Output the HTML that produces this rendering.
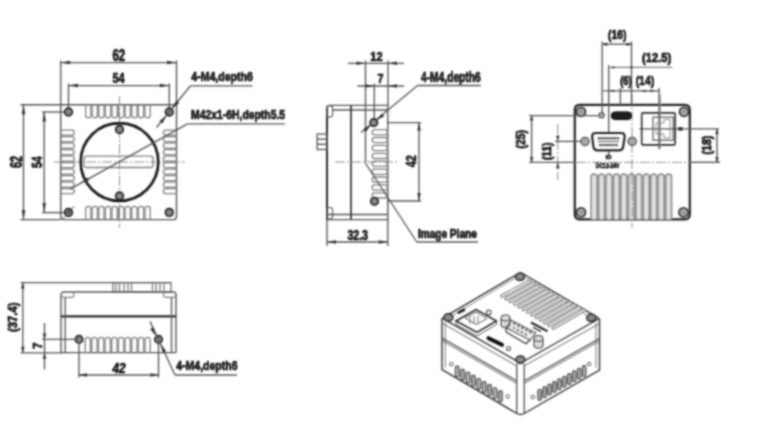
<!DOCTYPE html>
<html><head><meta charset="utf-8"><style>
html,body{margin:0;padding:0;background:#fff;width:760px;height:425px;overflow:hidden}
svg{display:block}
text{font-family:"Liberation Sans",sans-serif;stroke:#0a0a0a;stroke-width:0.65px}
</style></head><body>
<svg width="760" height="425" viewBox="0 0 760 425">
<defs><filter id="b" x="0" y="0" width="760" height="425" filterUnits="userSpaceOnUse"><feConvolveMatrix order="5" kernelMatrix="1 6 12 6 1 6 36 72 36 6 12 72 144 72 12 6 36 72 36 6 1 6 12 6 1" divisor="676" edgeMode="duplicate"/></filter></defs>
<rect width="760" height="425" fill="#fff"/>
<g filter="url(#b)">
<line x1="60.7" y1="60.5" x2="60.7" y2="104.7" stroke="#555" stroke-width="1.35" />
<line x1="176.5" y1="60.5" x2="176.5" y2="104.7" stroke="#555" stroke-width="1.35" />
<line x1="60.7" y1="62.6" x2="176.5" y2="62.6" stroke="#555" stroke-width="1.35" />
<path d="M60.7,62.6 L70.2,60.85 L70.2,64.35 Z" fill="#303030"/>
<path d="M176.5,62.6 L167,64.35 L167,60.85 Z" fill="#303030"/>
<text x="118.8" y="60.6" font-size="16.5" text-anchor="middle" fill="#0a0a0a" font-weight="bold" textLength="12.8" lengthAdjust="spacingAndGlyphs">62</text>
<line x1="68.5" y1="83.5" x2="68.5" y2="112" stroke="#555" stroke-width="1.35" />
<line x1="169.3" y1="83.5" x2="169.3" y2="112" stroke="#555" stroke-width="1.35" />
<line x1="68.5" y1="85.6" x2="169.3" y2="85.6" stroke="#555" stroke-width="1.35" />
<path d="M68.5,85.6 L78,83.85 L78,87.35 Z" fill="#303030"/>
<path d="M169.3,85.6 L159.8,87.35 L159.8,83.85 Z" fill="#303030"/>
<text x="118.5" y="82.7" font-size="14" text-anchor="middle" fill="#0a0a0a" font-weight="bold" textLength="12" lengthAdjust="spacingAndGlyphs">54</text>
<line x1="20.5" y1="104.7" x2="60.7" y2="104.7" stroke="#555" stroke-width="1.35" />
<line x1="20.5" y1="219.6" x2="60.7" y2="219.6" stroke="#555" stroke-width="1.35" />
<line x1="23.5" y1="104.7" x2="23.5" y2="219.6" stroke="#555" stroke-width="1.35" />
<path d="M23.5,104.7 L25.25,114.2 L21.75,114.2 Z" fill="#303030"/>
<path d="M23.5,219.6 L21.75,210.1 L25.25,210.1 Z" fill="#303030"/>
<text x="21.5" y="162" font-size="16.5" text-anchor="middle" fill="#0a0a0a" font-weight="bold" textLength="12.2" lengthAdjust="spacingAndGlyphs" transform="rotate(-90 21.5 162)">62</text>
<line x1="42" y1="112" x2="68.5" y2="112" stroke="#555" stroke-width="1.35" />
<line x1="42" y1="212.6" x2="68.5" y2="212.6" stroke="#555" stroke-width="1.35" />
<line x1="44.2" y1="112" x2="44.2" y2="212.6" stroke="#555" stroke-width="1.35" />
<path d="M44.2,112 L45.95,121.5 L42.45,121.5 Z" fill="#303030"/>
<path d="M44.2,212.6 L42.45,203.1 L45.95,203.1 Z" fill="#303030"/>
<text x="42" y="162.2" font-size="15.5" text-anchor="middle" fill="#0a0a0a" font-weight="bold" textLength="11.5" lengthAdjust="spacingAndGlyphs" transform="rotate(-90 42 162.2)">54</text>
<path d="M60.7,104.7 L176.5,104.7 L176.5,216.6 Q176.5,219.6 173.5,219.6 L63.7,219.6 Q60.7,219.6 60.7,216.6 Z" fill="none" stroke="#555" stroke-width="1.4" />
<path d="M85.6,104.7 L85.6,115.2 Q85.6,117.8 88.2,117.8 Q90.8,117.8 90.8,115.2 L90.8,104.7" fill="none" stroke="#808080" stroke-width="1.3" />
<path d="M85.6,219.6 L85.6,209 Q85.6,206.4 88.2,206.4 Q90.8,206.4 90.8,209 L90.8,219.6" fill="none" stroke="#808080" stroke-width="1.3" />
<path d="M92.2,104.7 L92.2,115.2 Q92.2,117.8 94.8,117.8 Q97.4,117.8 97.4,115.2 L97.4,104.7" fill="none" stroke="#808080" stroke-width="1.3" />
<path d="M92.2,219.6 L92.2,209 Q92.2,206.4 94.8,206.4 Q97.4,206.4 97.4,209 L97.4,219.6" fill="none" stroke="#808080" stroke-width="1.3" />
<path d="M98.8,104.7 L98.8,115.2 Q98.8,117.8 101.4,117.8 Q104,117.8 104,115.2 L104,104.7" fill="none" stroke="#808080" stroke-width="1.3" />
<path d="M98.8,219.6 L98.8,209 Q98.8,206.4 101.4,206.4 Q104,206.4 104,209 L104,219.6" fill="none" stroke="#808080" stroke-width="1.3" />
<path d="M105.4,104.7 L105.4,115.2 Q105.4,117.8 108,117.8 Q110.6,117.8 110.6,115.2 L110.6,104.7" fill="none" stroke="#808080" stroke-width="1.3" />
<path d="M105.4,219.6 L105.4,209 Q105.4,206.4 108,206.4 Q110.6,206.4 110.6,209 L110.6,219.6" fill="none" stroke="#808080" stroke-width="1.3" />
<path d="M112,104.7 L112,115.2 Q112,117.8 114.6,117.8 Q117.2,117.8 117.2,115.2 L117.2,104.7" fill="none" stroke="#808080" stroke-width="1.3" />
<path d="M112,219.6 L112,209 Q112,206.4 114.6,206.4 Q117.2,206.4 117.2,209 L117.2,219.6" fill="none" stroke="#808080" stroke-width="1.3" />
<path d="M118.6,104.7 L118.6,115.2 Q118.6,117.8 121.2,117.8 Q123.8,117.8 123.8,115.2 L123.8,104.7" fill="none" stroke="#808080" stroke-width="1.3" />
<path d="M118.6,219.6 L118.6,209 Q118.6,206.4 121.2,206.4 Q123.8,206.4 123.8,209 L123.8,219.6" fill="none" stroke="#808080" stroke-width="1.3" />
<path d="M125.2,104.7 L125.2,115.2 Q125.2,117.8 127.8,117.8 Q130.4,117.8 130.4,115.2 L130.4,104.7" fill="none" stroke="#808080" stroke-width="1.3" />
<path d="M125.2,219.6 L125.2,209 Q125.2,206.4 127.8,206.4 Q130.4,206.4 130.4,209 L130.4,219.6" fill="none" stroke="#808080" stroke-width="1.3" />
<path d="M131.8,104.7 L131.8,115.2 Q131.8,117.8 134.4,117.8 Q137,117.8 137,115.2 L137,104.7" fill="none" stroke="#808080" stroke-width="1.3" />
<path d="M131.8,219.6 L131.8,209 Q131.8,206.4 134.4,206.4 Q137,206.4 137,209 L137,219.6" fill="none" stroke="#808080" stroke-width="1.3" />
<path d="M138.4,104.7 L138.4,115.2 Q138.4,117.8 141,117.8 Q143.6,117.8 143.6,115.2 L143.6,104.7" fill="none" stroke="#808080" stroke-width="1.3" />
<path d="M138.4,219.6 L138.4,209 Q138.4,206.4 141,206.4 Q143.6,206.4 143.6,209 L143.6,219.6" fill="none" stroke="#808080" stroke-width="1.3" />
<path d="M145,104.7 L145,115.2 Q145,117.8 147.6,117.8 Q150.2,117.8 150.2,115.2 L150.2,104.7" fill="none" stroke="#808080" stroke-width="1.3" />
<path d="M145,219.6 L145,209 Q145,206.4 147.6,206.4 Q150.2,206.4 150.2,209 L150.2,219.6" fill="none" stroke="#808080" stroke-width="1.3" />
<path d="M60.7,130.2 L72,130.2 Q74.3,130.2 74.3,132.7 Q74.3,135.2 72,135.2 L60.7,135.2" fill="none" stroke="#808080" stroke-width="1.3" />
<path d="M176.5,130.2 L165.7,130.2 Q163.4,130.2 163.4,132.7 Q163.4,135.2 165.7,135.2 L176.5,135.2" fill="none" stroke="#808080" stroke-width="1.3" />
<path d="M60.7,136.7 L72,136.7 Q74.3,136.7 74.3,139.2 Q74.3,141.7 72,141.7 L60.7,141.7" fill="none" stroke="#808080" stroke-width="1.3" />
<path d="M176.5,136.7 L165.7,136.7 Q163.4,136.7 163.4,139.2 Q163.4,141.7 165.7,141.7 L176.5,141.7" fill="none" stroke="#808080" stroke-width="1.3" />
<path d="M60.7,143.2 L72,143.2 Q74.3,143.2 74.3,145.7 Q74.3,148.2 72,148.2 L60.7,148.2" fill="none" stroke="#808080" stroke-width="1.3" />
<path d="M176.5,143.2 L165.7,143.2 Q163.4,143.2 163.4,145.7 Q163.4,148.2 165.7,148.2 L176.5,148.2" fill="none" stroke="#808080" stroke-width="1.3" />
<path d="M60.7,149.7 L72,149.7 Q74.3,149.7 74.3,152.2 Q74.3,154.7 72,154.7 L60.7,154.7" fill="none" stroke="#808080" stroke-width="1.3" />
<path d="M176.5,149.7 L165.7,149.7 Q163.4,149.7 163.4,152.2 Q163.4,154.7 165.7,154.7 L176.5,154.7" fill="none" stroke="#808080" stroke-width="1.3" />
<path d="M60.7,156.2 L72,156.2 Q74.3,156.2 74.3,158.7 Q74.3,161.2 72,161.2 L60.7,161.2" fill="none" stroke="#808080" stroke-width="1.3" />
<path d="M176.5,156.2 L165.7,156.2 Q163.4,156.2 163.4,158.7 Q163.4,161.2 165.7,161.2 L176.5,161.2" fill="none" stroke="#808080" stroke-width="1.3" />
<path d="M60.7,162.7 L72,162.7 Q74.3,162.7 74.3,165.2 Q74.3,167.7 72,167.7 L60.7,167.7" fill="none" stroke="#808080" stroke-width="1.3" />
<path d="M176.5,162.7 L165.7,162.7 Q163.4,162.7 163.4,165.2 Q163.4,167.7 165.7,167.7 L176.5,167.7" fill="none" stroke="#808080" stroke-width="1.3" />
<path d="M60.7,169.2 L72,169.2 Q74.3,169.2 74.3,171.7 Q74.3,174.2 72,174.2 L60.7,174.2" fill="none" stroke="#808080" stroke-width="1.3" />
<path d="M176.5,169.2 L165.7,169.2 Q163.4,169.2 163.4,171.7 Q163.4,174.2 165.7,174.2 L176.5,174.2" fill="none" stroke="#808080" stroke-width="1.3" />
<path d="M60.7,175.7 L72,175.7 Q74.3,175.7 74.3,178.2 Q74.3,180.7 72,180.7 L60.7,180.7" fill="none" stroke="#808080" stroke-width="1.3" />
<path d="M176.5,175.7 L165.7,175.7 Q163.4,175.7 163.4,178.2 Q163.4,180.7 165.7,180.7 L176.5,180.7" fill="none" stroke="#808080" stroke-width="1.3" />
<path d="M60.7,182.2 L72,182.2 Q74.3,182.2 74.3,184.7 Q74.3,187.2 72,187.2 L60.7,187.2" fill="none" stroke="#808080" stroke-width="1.3" />
<path d="M176.5,182.2 L165.7,182.2 Q163.4,182.2 163.4,184.7 Q163.4,187.2 165.7,187.2 L176.5,187.2" fill="none" stroke="#808080" stroke-width="1.3" />
<path d="M60.7,188.7 L72,188.7 Q74.3,188.7 74.3,191.2 Q74.3,193.7 72,193.7 L60.7,193.7" fill="none" stroke="#808080" stroke-width="1.3" />
<path d="M176.5,188.7 L165.7,188.7 Q163.4,188.7 163.4,191.2 Q163.4,193.7 165.7,193.7 L176.5,193.7" fill="none" stroke="#808080" stroke-width="1.3" />
<line x1="54" y1="162" x2="185" y2="162" stroke="#808080" stroke-width="0.9" stroke-dasharray="10,2,2,2"/>
<line x1="119.5" y1="96" x2="119.5" y2="228" stroke="#808080" stroke-width="0.9" stroke-dasharray="10,2,2,2"/>
<circle cx="119.5" cy="162" r="38.8" fill="none" stroke="#151515" stroke-width="2.7"/>
<rect x="84" y="156.2" width="69" height="11.3" rx="2.5" fill="none" stroke="#808080" stroke-width="1.3" />
<circle cx="68.5" cy="112" r="3.7" fill="#8a8a8a" stroke="#1a1a1a" stroke-width="1.9"/>
<circle cx="169.3" cy="112" r="3.7" fill="#8a8a8a" stroke="#1a1a1a" stroke-width="1.9"/>
<circle cx="68.5" cy="212.4" r="3.7" fill="#8a8a8a" stroke="#1a1a1a" stroke-width="1.9"/>
<circle cx="169.3" cy="212.4" r="3.7" fill="#8a8a8a" stroke="#1a1a1a" stroke-width="1.9"/>
<circle cx="119.5" cy="129.5" r="3.7" fill="#8a8a8a" stroke="#1a1a1a" stroke-width="1.9"/>
<circle cx="119.5" cy="196" r="3.7" fill="#8a8a8a" stroke="#1a1a1a" stroke-width="1.9"/>
<line x1="190.5" y1="85.8" x2="156.5" y2="127.5" stroke="#555" stroke-width="1.35" />
<path d="M172.3,108.3 L176.21,100.52 L179.15,102.92 Z" fill="#303030"/>
<path d="M166.3,115.7 L162.39,123.48 L159.45,121.08 Z" fill="#303030"/>
<line x1="190.5" y1="85.8" x2="252.3" y2="85.8" stroke="#555" stroke-width="1.35" />
<text x="191.3" y="81" font-size="13.6" text-anchor="start" fill="#0a0a0a" font-weight="bold" textLength="61.6" lengthAdjust="spacingAndGlyphs">4-M4,depth6</text>
<line x1="187.5" y1="123.8" x2="70" y2="189.2" stroke="#555" stroke-width="1.35" />
<path d="M80.5,183.3 L87.51,177.4 L89.18,180.36 Z" fill="#303030"/>
<line x1="187.5" y1="123.8" x2="285" y2="123.8" stroke="#555" stroke-width="1.35" />
<text x="191.1" y="118.6" font-size="13.3" text-anchor="start" fill="#0a0a0a" font-weight="bold" textLength="94" lengthAdjust="spacingAndGlyphs">M42x1-6H,depth5.5</text>
<line x1="62" y1="219.6" x2="74.4" y2="206" stroke="#555" stroke-width="1" />
<path d="M66.5,214.6 L68.22,210.76 L70.15,212.51 Z" fill="#303030"/>
<path d="M71,209.8 L69.28,213.64 L67.35,211.89 Z" fill="#303030"/>
<line x1="347.8" y1="63.3" x2="404" y2="63.3" stroke="#555" stroke-width="1.35" />
<path d="M365.5,63.3 L356.5,65.05 L356.5,61.55 Z" fill="#303030"/>
<path d="M388,63.3 L397,61.55 L397,65.05 Z" fill="#303030"/>
<line x1="365.5" y1="60.5" x2="365.5" y2="162" stroke="#555" stroke-width="1.35" />
<line x1="388" y1="60.5" x2="388" y2="105.4" stroke="#555" stroke-width="1.35" />
<text x="376.5" y="60.5" font-size="13.5" text-anchor="middle" fill="#0a0a0a" font-weight="bold" textLength="12.3" lengthAdjust="spacingAndGlyphs">12</text>
<line x1="357.5" y1="86" x2="404" y2="86" stroke="#555" stroke-width="1.35" />
<path d="M374.3,86 L365.3,87.75 L365.3,84.25 Z" fill="#303030"/>
<path d="M388,86 L397,84.25 L397,87.75 Z" fill="#303030"/>
<line x1="374.3" y1="83.5" x2="374.3" y2="119" stroke="#555" stroke-width="1.35" />
<text x="380.4" y="83.4" font-size="13.5" text-anchor="middle" fill="#0a0a0a" font-weight="bold" textLength="6" lengthAdjust="spacingAndGlyphs">7</text>
<text x="421" y="81.5" font-size="14.2" text-anchor="start" fill="#0a0a0a" font-weight="bold" textLength="59.7" lengthAdjust="spacingAndGlyphs">4-M4,depth6</text>
<line x1="417.5" y1="85.5" x2="481" y2="85.5" stroke="#555" stroke-width="1.35" />
<line x1="417.5" y1="85.5" x2="361" y2="132.5" stroke="#555" stroke-width="1.35" />
<path d="M376.5,120.3 L381.82,113.41 L384.25,116.33 Z" fill="#303030"/>
<path d="M371,125 L365.68,131.89 L363.25,128.97 Z" fill="#303030"/>
<path d="M327,219.6 L327,108.4 Q327,105.4 330,105.4 L387.8,105.4 L387.8,219.6 Z" fill="none" stroke="#555" stroke-width="1.4" />
<line x1="327" y1="108.4" x2="327" y2="219.6" stroke="#1e1e1e" stroke-width="1.8" />
<line x1="332" y1="110" x2="387.8" y2="110" stroke="#555" stroke-width="1.35" />
<line x1="327" y1="214.5" x2="387.8" y2="214.5" stroke="#555" stroke-width="1.35" />
<line x1="351" y1="105.4" x2="351" y2="219.6" stroke="#303030" stroke-width="1.7" />
<rect x="326.6" y="105.6" width="6" height="11.5" rx="2.5" fill="none" stroke="#555" stroke-width="1.1" />
<rect x="326.6" y="207.5" width="6" height="11.5" rx="2.5" fill="none" stroke="#555" stroke-width="1.1" />
<rect x="317.2" y="134" width="9.8" height="15.5" rx="0" fill="none" stroke="#555" stroke-width="1.3" />
<line x1="317.2" y1="139.2" x2="327" y2="139.2" stroke="#555" stroke-width="1.35" />
<line x1="317.2" y1="144.3" x2="327" y2="144.3" stroke="#555" stroke-width="1.35" />
<rect x="372.2" y="129.6" width="15.2" height="5.2" rx="2.6" fill="none" stroke="#808080" stroke-width="1.3" />
<rect x="372.2" y="137.5" width="15.2" height="5.2" rx="2.6" fill="none" stroke="#808080" stroke-width="1.3" />
<rect x="372.2" y="145.4" width="15.2" height="5.2" rx="2.6" fill="none" stroke="#808080" stroke-width="1.3" />
<rect x="372.2" y="153.3" width="15.2" height="5.2" rx="2.6" fill="none" stroke="#808080" stroke-width="1.3" />
<rect x="372.2" y="161.2" width="15.2" height="5.2" rx="2.6" fill="none" stroke="#808080" stroke-width="1.3" />
<rect x="372.2" y="169.1" width="15.2" height="5.2" rx="2.6" fill="none" stroke="#808080" stroke-width="1.3" />
<rect x="372.2" y="177" width="15.2" height="5.2" rx="2.6" fill="none" stroke="#808080" stroke-width="1.3" />
<rect x="372.2" y="184.9" width="15.2" height="5.2" rx="2.6" fill="none" stroke="#808080" stroke-width="1.3" />
<rect x="372.2" y="192.8" width="15.2" height="5.2" rx="2.6" fill="none" stroke="#808080" stroke-width="1.3" />
<circle cx="373.8" cy="122.6" r="3.6" fill="#8a8a8a" stroke="#1a1a1a" stroke-width="1.9"/>
<circle cx="374.5" cy="201.2" r="3.6" fill="#8a8a8a" stroke="#1a1a1a" stroke-width="1.9"/>
<line x1="387.8" y1="122.6" x2="421" y2="122.6" stroke="#555" stroke-width="1.35" />
<line x1="387.8" y1="201" x2="421" y2="201" stroke="#555" stroke-width="1.35" />
<line x1="419" y1="122.6" x2="419" y2="201" stroke="#555" stroke-width="1.35" />
<path d="M419,122.6 L420.75,130.6 L417.25,130.6 Z" fill="#303030"/>
<path d="M419,201 L417.25,193 L420.75,193 Z" fill="#303030"/>
<text x="416" y="161.3" font-size="14" text-anchor="middle" fill="#0a0a0a" font-weight="bold" textLength="12" lengthAdjust="spacingAndGlyphs" transform="rotate(-90 416 161.3)">42</text>
<line x1="335" y1="162" x2="398" y2="162" stroke="#808080" stroke-width="0.9" stroke-dasharray="10,2,2,2"/>
<line x1="327" y1="219.6" x2="327" y2="246" stroke="#555" stroke-width="1.35" />
<line x1="387.8" y1="219.6" x2="387.8" y2="246" stroke="#555" stroke-width="1.35" />
<line x1="327" y1="242" x2="387.8" y2="242" stroke="#555" stroke-width="1.35" />
<path d="M327,242 L336,240.25 L336,243.75 Z" fill="#303030"/>
<path d="M387.8,242 L378.8,243.75 L378.8,240.25 Z" fill="#303030"/>
<text x="357.7" y="239.8" font-size="14" text-anchor="middle" fill="#0a0a0a" font-weight="bold" textLength="20.6" lengthAdjust="spacingAndGlyphs">32.3</text>
<line x1="416.8" y1="242" x2="365" y2="162.5" stroke="#555" stroke-width="1.35" />
<line x1="416.8" y1="242" x2="478" y2="242" stroke="#555" stroke-width="1.35" />
<text x="417.9" y="237.7" font-size="13" text-anchor="start" fill="#0a0a0a" font-weight="bold" textLength="58.9" lengthAdjust="spacingAndGlyphs">Image Plane</text>
<path d="M579.8,104.9 L684.8,104.9 Q689.8,104.9 689.8,109.9 L689.8,214.3 Q689.8,219.3 684.8,219.3 L579.8,219.3 Q574.8,219.3 574.8,214.3 L574.8,109.9 Q574.8,104.9 579.8,104.9 Z" fill="none" stroke="#222" stroke-width="2.2" />
<circle cx="581" cy="111.8" r="4.4" fill="#b5b5b5" stroke="#333" stroke-width="2"/>
<path d="M579,109.8 L583,113.8 M579,113.8 L583,109.8" fill="none" stroke="#666" stroke-width="0.8" />
<circle cx="684" cy="111.8" r="4.4" fill="#b5b5b5" stroke="#333" stroke-width="2"/>
<path d="M682,109.8 L686,113.8 M682,113.8 L686,109.8" fill="none" stroke="#666" stroke-width="0.8" />
<circle cx="581" cy="212.4" r="4.4" fill="#b5b5b5" stroke="#333" stroke-width="2"/>
<path d="M579,210.4 L583,214.4 M579,214.4 L583,210.4" fill="none" stroke="#666" stroke-width="0.8" />
<circle cx="683.5" cy="212.4" r="4.4" fill="#b5b5b5" stroke="#333" stroke-width="2"/>
<path d="M681.5,210.4 L685.5,214.4 M681.5,214.4 L685.5,210.4" fill="none" stroke="#666" stroke-width="0.8" />
<path d="M591.2,219.3 L591.2,177 Q591.2,174.2 594.1,174.2 Q597,174.2 597,177 L597,219.3" fill="#e2e2e2" stroke="#8a8a8a" stroke-width="1.7" />
<path d="M598.65,219.3 L598.65,177 Q598.65,174.2 601.55,174.2 Q604.45,174.2 604.45,177 L604.45,219.3" fill="#e2e2e2" stroke="#8a8a8a" stroke-width="1.7" />
<path d="M606.1,219.3 L606.1,177 Q606.1,174.2 609,174.2 Q611.9,174.2 611.9,177 L611.9,219.3" fill="#e2e2e2" stroke="#8a8a8a" stroke-width="1.7" />
<path d="M613.55,219.3 L613.55,177 Q613.55,174.2 616.45,174.2 Q619.35,174.2 619.35,177 L619.35,219.3" fill="#e2e2e2" stroke="#8a8a8a" stroke-width="1.7" />
<path d="M621,219.3 L621,177 Q621,174.2 623.9,174.2 Q626.8,174.2 626.8,177 L626.8,219.3" fill="#e2e2e2" stroke="#8a8a8a" stroke-width="1.7" />
<path d="M628.45,219.3 L628.45,177 Q628.45,174.2 631.35,174.2 Q634.25,174.2 634.25,177 L634.25,219.3" fill="#e2e2e2" stroke="#8a8a8a" stroke-width="1.7" />
<path d="M635.9,219.3 L635.9,177 Q635.9,174.2 638.8,174.2 Q641.7,174.2 641.7,177 L641.7,219.3" fill="#e2e2e2" stroke="#8a8a8a" stroke-width="1.7" />
<path d="M643.35,219.3 L643.35,177 Q643.35,174.2 646.25,174.2 Q649.15,174.2 649.15,177 L649.15,219.3" fill="#e2e2e2" stroke="#8a8a8a" stroke-width="1.7" />
<path d="M650.8,219.3 L650.8,177 Q650.8,174.2 653.7,174.2 Q656.6,174.2 656.6,177 L656.6,219.3" fill="#e2e2e2" stroke="#8a8a8a" stroke-width="1.7" />
<path d="M658.25,219.3 L658.25,177 Q658.25,174.2 661.15,174.2 Q664.05,174.2 664.05,177 L664.05,219.3" fill="#e2e2e2" stroke="#8a8a8a" stroke-width="1.7" />
<path d="M665.7,219.3 L665.7,177 Q665.7,174.2 668.6,174.2 Q671.5,174.2 671.5,177 L671.5,219.3" fill="#e2e2e2" stroke="#8a8a8a" stroke-width="1.7" />
<line x1="632" y1="95" x2="632" y2="228" stroke="#808080" stroke-width="0.9" stroke-dasharray="10,2,2,2"/>
<line x1="529" y1="162.3" x2="576" y2="162.3" stroke="#555" stroke-width="1.35" />
<line x1="576" y1="162.3" x2="690" y2="162.3" stroke="#808080" stroke-width="0.9" stroke-dasharray="10,2,2,2"/>
<line x1="690" y1="162.3" x2="720" y2="162.3" stroke="#555" stroke-width="1.35" />
<line x1="602.2" y1="41.5" x2="602.2" y2="116" stroke="#555" stroke-width="1.35" />
<line x1="631.5" y1="41.5" x2="631.5" y2="104.9" stroke="#555" stroke-width="1.35" />
<line x1="602.2" y1="44.2" x2="631.5" y2="44.2" stroke="#555" stroke-width="1.35" />
<path d="M602.2,44.2 L607.2,42.45 L607.2,45.95 Z" fill="#303030"/>
<path d="M631.5,44.2 L626.5,45.95 L626.5,42.45 Z" fill="#303030"/>
<text x="617.2" y="39.2" font-size="13" text-anchor="middle" fill="#0a0a0a" font-weight="bold" textLength="18.3" lengthAdjust="spacingAndGlyphs">(16)</text>
<line x1="608.7" y1="65" x2="608.7" y2="133" stroke="#555" stroke-width="1.35" />
<line x1="608.7" y1="150" x2="608.7" y2="155" stroke="#555" stroke-width="1.35" />
<line x1="608.2" y1="67.4" x2="672.2" y2="67.4" stroke="#808080" stroke-width="1.35" />
<path d="M616.7,67.4 L612.2,68.6 L612.2,66.2 Z" fill="#303030"/>
<path d="M628,67.4 L632.5,66.2 L632.5,68.6 Z" fill="#303030"/>
<text x="656.7" y="61.8" font-size="13" text-anchor="middle" fill="#0a0a0a" font-weight="bold" textLength="29.2" lengthAdjust="spacingAndGlyphs">(12.5)</text>
<line x1="620.4" y1="88" x2="620.4" y2="104.9" stroke="#555" stroke-width="1.35" />
<line x1="659" y1="88" x2="659" y2="149" stroke="#555" stroke-width="1.35" />
<line x1="603.5" y1="90.9" x2="659" y2="90.9" stroke="#555" stroke-width="1.35" />
<path d="M615.7,90.9 L611.2,92.1 L611.2,89.7 Z" fill="#303030"/>
<path d="M620.4,90.9 L620.5,90.8 L620.5,91 Z" fill="#303030"/>
<path d="M641,90.9 L646,89.7 L646,92.1 Z" fill="#303030"/>
<path d="M655.3,90.9 L650.3,92.1 L650.3,89.7 Z" fill="#303030"/>
<text x="625.9" y="85.4" font-size="13" text-anchor="middle" fill="#0a0a0a" font-weight="bold" textLength="11.5" lengthAdjust="spacingAndGlyphs">(6)</text>
<text x="644.9" y="85.4" font-size="13" text-anchor="middle" fill="#0a0a0a" font-weight="bold" textLength="18.5" lengthAdjust="spacingAndGlyphs">(14)</text>
<line x1="529" y1="115.6" x2="602" y2="115.6" stroke="#555" stroke-width="1.35" />
<line x1="531.6" y1="115.6" x2="531.6" y2="162.3" stroke="#555" stroke-width="1.35" />
<path d="M531.6,115.6 L533.35,120.6 L529.85,120.6 Z" fill="#303030"/>
<path d="M531.6,162.3 L529.85,157.3 L533.35,157.3 Z" fill="#303030"/>
<text x="525.5" y="139.3" font-size="13" text-anchor="middle" fill="#0a0a0a" font-weight="bold" textLength="18.5" lengthAdjust="spacingAndGlyphs" transform="rotate(-90 525.5 139.3)">(25)</text>
<line x1="557.8" y1="124" x2="557.8" y2="180" stroke="#808080" stroke-width="0.9" stroke-dasharray="10,2,2,2"/>
<line x1="555" y1="141.4" x2="585" y2="141.4" stroke="#555" stroke-width="1.35" />
<path d="M557.8,141.4 L556.05,135.4 L559.55,135.4 Z" fill="#303030"/>
<path d="M557.8,162.3 L559.55,168.3 L556.05,168.3 Z" fill="#303030"/>
<text x="551.5" y="151.3" font-size="13" text-anchor="middle" fill="#0a0a0a" font-weight="bold" textLength="17.5" lengthAdjust="spacingAndGlyphs" transform="rotate(-90 551.5 151.3)">(11)</text>
<line x1="639.4" y1="128.9" x2="719" y2="128.9" stroke="#555" stroke-width="1.35" />
<line x1="717" y1="128.9" x2="717" y2="162.3" stroke="#555" stroke-width="1.35" />
<path d="M717,128.9 L718.75,133.9 L715.25,133.9 Z" fill="#303030"/>
<path d="M717,162.3 L715.25,157.3 L718.75,157.3 Z" fill="#303030"/>
<text x="710.8" y="145" font-size="13" text-anchor="middle" fill="#0a0a0a" font-weight="bold" textLength="18.8" lengthAdjust="spacingAndGlyphs" transform="rotate(-90 710.8 145)">(18)</text>
<circle cx="601.6" cy="115.3" r="2.6" fill="#aaa" stroke="#555" stroke-width="1.2"/>
<rect x="611.2" y="111.9" width="20.6" height="7.6" rx="3.8" fill="#1a1a1a" stroke="#111" stroke-width="1" />
<path d="M596,133 L621,133 Q625.2,133 624.6,137 L623.2,146.5 Q622.7,150.3 619,150.3 L597.6,150.3 Q594,150.3 593.4,146.5 L592.2,137 Q591.7,133 596,133 Z" fill="none" stroke="#222" stroke-width="2.2" />
<circle cx="598.8" cy="138.3" r="0.95" fill="#555" stroke="#333" stroke-width="0.7"/>
<circle cx="601.55" cy="138.3" r="0.95" fill="#555" stroke="#333" stroke-width="0.7"/>
<circle cx="604.3" cy="138.3" r="0.95" fill="#555" stroke="#333" stroke-width="0.7"/>
<circle cx="607.05" cy="138.3" r="0.95" fill="#555" stroke="#333" stroke-width="0.7"/>
<circle cx="609.8" cy="138.3" r="0.95" fill="#555" stroke="#333" stroke-width="0.7"/>
<circle cx="612.55" cy="138.3" r="0.95" fill="#555" stroke="#333" stroke-width="0.7"/>
<circle cx="615.3" cy="138.3" r="0.95" fill="#555" stroke="#333" stroke-width="0.7"/>
<circle cx="618.05" cy="138.3" r="0.95" fill="#555" stroke="#333" stroke-width="0.7"/>
<line x1="598" y1="141.4" x2="619" y2="141.4" stroke="#555" stroke-width="1" />
<circle cx="600.2" cy="145" r="0.95" fill="#555" stroke="#333" stroke-width="0.7"/>
<circle cx="602.95" cy="145" r="0.95" fill="#555" stroke="#333" stroke-width="0.7"/>
<circle cx="605.7" cy="145" r="0.95" fill="#555" stroke="#333" stroke-width="0.7"/>
<circle cx="608.45" cy="145" r="0.95" fill="#555" stroke="#333" stroke-width="0.7"/>
<circle cx="611.2" cy="145" r="0.95" fill="#555" stroke="#333" stroke-width="0.7"/>
<circle cx="613.95" cy="145" r="0.95" fill="#555" stroke="#333" stroke-width="0.7"/>
<circle cx="616.7" cy="145" r="0.95" fill="#555" stroke="#333" stroke-width="0.7"/>
<circle cx="585" cy="141.4" r="4" fill="#aaa" stroke="#555" stroke-width="1.5"/>
<circle cx="632.2" cy="141.4" r="4" fill="#aaa" stroke="#555" stroke-width="1.5"/>
<text x="608.6" y="159.4" font-size="5.5" text-anchor="middle" fill="#0a0a0a" font-weight="bold" textLength="5.5" lengthAdjust="spacingAndGlyphs">IO</text>
<text x="607.6" y="167.8" font-size="8" text-anchor="middle" fill="#0a0a0a" font-weight="bold" textLength="23.5" lengthAdjust="spacingAndGlyphs">DC12-24V</text>
<rect x="641.7" y="112.9" width="33.5" height="32" rx="1.5" fill="none" stroke="#2a2a2a" stroke-width="1.6" />
<rect x="653" y="117.2" width="20.3" height="23" rx="0" fill="none" stroke="#555" stroke-width="1.2" />
<path d="M656,123 L664,123 L664,119.5 L670,119.5 L670,138 L664,138 L664,134 L656,134 Z" fill="none" stroke="#808080" stroke-width="0.9" />
<line x1="660.1" y1="95" x2="660.1" y2="148.7" stroke="#808080" stroke-width="1.35" />
<rect x="678.5" y="127.3" width="4" height="3" rx="0" fill="#333" stroke="#333" stroke-width="0.5" />
<line x1="20.7" y1="282.6" x2="171" y2="282.6" stroke="#555" stroke-width="1.35" />
<line x1="20.7" y1="352.8" x2="62" y2="352.8" stroke="#555" stroke-width="1.35" />
<line x1="22.8" y1="282.6" x2="22.8" y2="352.8" stroke="#555" stroke-width="1.35" />
<path d="M22.8,282.6 L24.55,288.6 L21.05,288.6 Z" fill="#303030"/>
<path d="M22.8,352.8 L21.05,346.8 L24.55,346.8 Z" fill="#303030"/>
<text x="17.2" y="317.2" font-size="13" text-anchor="middle" fill="#0a0a0a" font-weight="bold" textLength="29.5" lengthAdjust="spacingAndGlyphs" transform="rotate(-90 17.2 317.2)">(37.4)</text>
<path d="M61,352.6 L61,295 Q61,292 64,292 L173,292 Q176,292 176,295 L176,352.6" fill="none" stroke="#555" stroke-width="1.4" />
<line x1="61" y1="352.6" x2="176" y2="352.6" stroke="#555" stroke-width="1.3" />
<line x1="61" y1="316.4" x2="176" y2="316.4" stroke="#2a2a2a" stroke-width="2.2" />
<rect x="61.5" y="292" width="12.5" height="5.4" rx="2.5" fill="none" stroke="#808080" stroke-width="1.1" />
<rect x="163.5" y="292" width="12.5" height="5.4" rx="2.5" fill="none" stroke="#808080" stroke-width="1.1" />
<line x1="65.2" y1="297.4" x2="65.2" y2="352.6" stroke="#555" stroke-width="1.35" />
<line x1="171.5" y1="297.4" x2="171.5" y2="352.6" stroke="#555" stroke-width="1.35" />
<rect x="113" y="282.6" width="58" height="9.4" rx="0" fill="none" stroke="#555" stroke-width="1.1" />
<line x1="116" y1="282.6" x2="116" y2="292" stroke="#808080" stroke-width="1.35" />
<line x1="119.5" y1="282.6" x2="119.5" y2="292" stroke="#808080" stroke-width="1.35" />
<line x1="124" y1="282.6" x2="124" y2="292" stroke="#808080" stroke-width="1.35" />
<line x1="128" y1="282.6" x2="128" y2="292" stroke="#808080" stroke-width="1.35" />
<line x1="131.5" y1="282.6" x2="131.5" y2="292" stroke="#808080" stroke-width="1.35" />
<line x1="152.5" y1="282.6" x2="152.5" y2="292" stroke="#808080" stroke-width="1.35" />
<line x1="156" y1="282.6" x2="156" y2="292" stroke="#808080" stroke-width="1.35" />
<line x1="160" y1="282.6" x2="160" y2="292" stroke="#808080" stroke-width="1.35" />
<line x1="164" y1="282.6" x2="164" y2="292" stroke="#808080" stroke-width="1.35" />
<path d="M85.2,352.6 L85.2,340 Q85.2,337.4 87.8,337.4 Q90.4,337.4 90.4,340 L90.4,352.6" fill="none" stroke="#808080" stroke-width="1.3" />
<path d="M91.85,352.6 L91.85,340 Q91.85,337.4 94.45,337.4 Q97.05,337.4 97.05,340 L97.05,352.6" fill="none" stroke="#808080" stroke-width="1.3" />
<path d="M98.5,352.6 L98.5,340 Q98.5,337.4 101.1,337.4 Q103.7,337.4 103.7,340 L103.7,352.6" fill="none" stroke="#808080" stroke-width="1.3" />
<path d="M105.15,352.6 L105.15,340 Q105.15,337.4 107.75,337.4 Q110.35,337.4 110.35,340 L110.35,352.6" fill="none" stroke="#808080" stroke-width="1.3" />
<path d="M111.8,352.6 L111.8,340 Q111.8,337.4 114.4,337.4 Q117,337.4 117,340 L117,352.6" fill="none" stroke="#808080" stroke-width="1.3" />
<path d="M118.45,352.6 L118.45,340 Q118.45,337.4 121.05,337.4 Q123.65,337.4 123.65,340 L123.65,352.6" fill="none" stroke="#808080" stroke-width="1.3" />
<path d="M125.1,352.6 L125.1,340 Q125.1,337.4 127.7,337.4 Q130.3,337.4 130.3,340 L130.3,352.6" fill="none" stroke="#808080" stroke-width="1.3" />
<path d="M131.75,352.6 L131.75,340 Q131.75,337.4 134.35,337.4 Q136.95,337.4 136.95,340 L136.95,352.6" fill="none" stroke="#808080" stroke-width="1.3" />
<path d="M138.4,352.6 L138.4,340 Q138.4,337.4 141,337.4 Q143.6,337.4 143.6,340 L143.6,352.6" fill="none" stroke="#808080" stroke-width="1.3" />
<path d="M145.05,352.6 L145.05,340 Q145.05,337.4 147.65,337.4 Q150.25,337.4 150.25,340 L150.25,352.6" fill="none" stroke="#808080" stroke-width="1.3" />
<circle cx="79" cy="339.4" r="3.6" fill="#8a8a8a" stroke="#1a1a1a" stroke-width="1.9"/>
<circle cx="158.5" cy="339.4" r="3.6" fill="#8a8a8a" stroke="#1a1a1a" stroke-width="1.9"/>
<line x1="42" y1="339.4" x2="79" y2="339.4" stroke="#555" stroke-width="1.35" />
<line x1="44.5" y1="323" x2="44.5" y2="369.6" stroke="#555" stroke-width="1.35" />
<path d="M44.5,339.4 L42.75,333.4 L46.25,333.4 Z" fill="#303030"/>
<path d="M44.5,352.8 L46.25,358.8 L42.75,358.8 Z" fill="#303030"/>
<text x="41.6" y="345.8" font-size="13.5" text-anchor="middle" fill="#0a0a0a" font-weight="bold" textLength="6.5" lengthAdjust="spacingAndGlyphs" transform="rotate(-90 41.6 345.8)">7</text>
<line x1="79" y1="342" x2="79" y2="377.5" stroke="#555" stroke-width="1.35" />
<line x1="158.5" y1="342" x2="158.5" y2="377.5" stroke="#555" stroke-width="1.35" />
<line x1="79" y1="375" x2="158.5" y2="375" stroke="#555" stroke-width="1.35" />
<path d="M79,375 L87,373.25 L87,376.75 Z" fill="#303030"/>
<path d="M158.5,375 L150.5,376.75 L150.5,373.25 Z" fill="#303030"/>
<text x="119" y="372.5" font-size="14" text-anchor="middle" fill="#0a0a0a" font-weight="bold" font-style="italic" textLength="13" lengthAdjust="spacingAndGlyphs">42</text>
<line x1="150" y1="321.4" x2="175" y2="375" stroke="#555" stroke-width="1.35" />
<line x1="175" y1="375" x2="237" y2="375" stroke="#555" stroke-width="1.35" />
<path d="M155.5,335.8 L150.21,328.88 L153.66,327.29 Z" fill="#303030"/>
<path d="M160.8,344.2 L166.09,351.12 L162.64,352.71 Z" fill="#303030"/>
<text x="176.3" y="370" font-size="13.6" text-anchor="start" fill="#0a0a0a" font-weight="bold" textLength="61.2" lengthAdjust="spacingAndGlyphs">4-M4,depth6</text>
<path d="M518.5,273.5 L444.2,317.2 Q442,318 444,319.2 L518.5,362 Q520.5,363 522.5,362 L597.5,319.5 Q599.5,318.5 597.5,317.3 L522.5,273.5 Q520.5,272.5 518.5,273.5 Z" fill="none" stroke="#303030" stroke-width="1.4" />
<line x1="525.5" y1="277.9" x2="593.5" y2="318.9" stroke="#777" stroke-width="0.9" />
<line x1="515.5" y1="277.9" x2="448" y2="318.2" stroke="#777" stroke-width="0.9" />
<path d="M442,318 L442,369.5 L516.8,413.5 Q520.5,415.5 524.2,413.5 L599.5,370 L599.5,318.5" fill="none" stroke="#303030" stroke-width="1.4" />
<line x1="516.8" y1="364" x2="516.8" y2="413.5" stroke="#303030" stroke-width="1.1" />
<line x1="524.2" y1="364" x2="524.2" y2="413.5" stroke="#303030" stroke-width="1.1" />
<line x1="445.3" y1="322" x2="445.3" y2="367.5" stroke="#555" stroke-width="0.8" />
<line x1="596" y1="322.5" x2="596" y2="368" stroke="#555" stroke-width="0.8" />
<line x1="442" y1="323" x2="516.8" y2="366" stroke="#555" stroke-width="0.9" />
<line x1="524.2" y1="366" x2="599.5" y2="323.5" stroke="#555" stroke-width="0.9" />
<line x1="442" y1="338" x2="516.8" y2="381" stroke="#444" stroke-width="1.3" />
<line x1="524.2" y1="381" x2="599.5" y2="338.5" stroke="#444" stroke-width="1.3" />
<line x1="442" y1="340.5" x2="516.8" y2="383.5" stroke="#444" stroke-width="0.9" />
<line x1="524.2" y1="383.5" x2="599.5" y2="341" stroke="#444" stroke-width="0.9" />
<ellipse cx="520" cy="276.8" rx="4.5" ry="3.5" fill="#8a8a8a" stroke="#222" stroke-width="1.6"/>
<ellipse cx="448.4" cy="317.4" rx="4.5" ry="3.5" fill="#8a8a8a" stroke="#222" stroke-width="1.6"/>
<ellipse cx="591.2" cy="317.8" rx="4.5" ry="3.5" fill="#8a8a8a" stroke="#222" stroke-width="1.6"/>
<ellipse cx="520.4" cy="359.6" rx="4.5" ry="3.5" fill="#8a8a8a" stroke="#222" stroke-width="1.6"/>
<line x1="502" y1="296" x2="529.5" y2="281.3" stroke="#4a4a4a" stroke-width="3.5" stroke-linecap="round"/>
<line x1="502" y1="296" x2="529.5" y2="281.3" stroke="#eeeeee" stroke-width="1.8" stroke-linecap="round"/>
<line x1="506.28" y1="298.67" x2="534.04" y2="283.69" stroke="#4a4a4a" stroke-width="3.5" stroke-linecap="round"/>
<line x1="506.28" y1="298.67" x2="534.04" y2="283.69" stroke="#eeeeee" stroke-width="1.8" stroke-linecap="round"/>
<line x1="510.57" y1="301.33" x2="538.58" y2="286.08" stroke="#4a4a4a" stroke-width="3.5" stroke-linecap="round"/>
<line x1="510.57" y1="301.33" x2="538.58" y2="286.08" stroke="#eeeeee" stroke-width="1.8" stroke-linecap="round"/>
<line x1="514.85" y1="304" x2="543.12" y2="288.48" stroke="#4a4a4a" stroke-width="3.5" stroke-linecap="round"/>
<line x1="514.85" y1="304" x2="543.12" y2="288.48" stroke="#eeeeee" stroke-width="1.8" stroke-linecap="round"/>
<line x1="519.13" y1="306.67" x2="547.67" y2="290.87" stroke="#4a4a4a" stroke-width="3.5" stroke-linecap="round"/>
<line x1="519.13" y1="306.67" x2="547.67" y2="290.87" stroke="#eeeeee" stroke-width="1.8" stroke-linecap="round"/>
<line x1="523.42" y1="309.33" x2="552.21" y2="293.26" stroke="#4a4a4a" stroke-width="3.5" stroke-linecap="round"/>
<line x1="523.42" y1="309.33" x2="552.21" y2="293.26" stroke="#eeeeee" stroke-width="1.8" stroke-linecap="round"/>
<line x1="527.7" y1="312" x2="556.75" y2="295.65" stroke="#4a4a4a" stroke-width="3.5" stroke-linecap="round"/>
<line x1="527.7" y1="312" x2="556.75" y2="295.65" stroke="#eeeeee" stroke-width="1.8" stroke-linecap="round"/>
<line x1="531.98" y1="314.67" x2="561.29" y2="298.04" stroke="#4a4a4a" stroke-width="3.5" stroke-linecap="round"/>
<line x1="531.98" y1="314.67" x2="561.29" y2="298.04" stroke="#eeeeee" stroke-width="1.8" stroke-linecap="round"/>
<line x1="536.27" y1="317.33" x2="565.83" y2="300.43" stroke="#4a4a4a" stroke-width="3.5" stroke-linecap="round"/>
<line x1="536.27" y1="317.33" x2="565.83" y2="300.43" stroke="#eeeeee" stroke-width="1.8" stroke-linecap="round"/>
<line x1="540.55" y1="320" x2="570.38" y2="302.82" stroke="#4a4a4a" stroke-width="3.5" stroke-linecap="round"/>
<line x1="540.55" y1="320" x2="570.38" y2="302.82" stroke="#eeeeee" stroke-width="1.8" stroke-linecap="round"/>
<line x1="544.83" y1="322.67" x2="574.92" y2="305.22" stroke="#4a4a4a" stroke-width="3.5" stroke-linecap="round"/>
<line x1="544.83" y1="322.67" x2="574.92" y2="305.22" stroke="#eeeeee" stroke-width="1.8" stroke-linecap="round"/>
<line x1="549.12" y1="325.33" x2="579.46" y2="307.61" stroke="#4a4a4a" stroke-width="3.5" stroke-linecap="round"/>
<line x1="549.12" y1="325.33" x2="579.46" y2="307.61" stroke="#eeeeee" stroke-width="1.8" stroke-linecap="round"/>
<line x1="553.4" y1="328" x2="584" y2="310" stroke="#4a4a4a" stroke-width="3.5" stroke-linecap="round"/>
<line x1="553.4" y1="328" x2="584" y2="310" stroke="#eeeeee" stroke-width="1.8" stroke-linecap="round"/>
<path d="M456,321 L476,309.5 L496.5,321 L477,332.5 Z" fill="none" stroke="#1e1e1e" stroke-width="1.5" />
<path d="M456,321 L456,324.5 L477,336 L496.5,324.5 L496.5,321" fill="none" stroke="#555" stroke-width="1" />
<path d="M465,318 L476,312 L487,318.5 L476.5,324.5 Z" fill="none" stroke="#555" stroke-width="1" />
<line x1="470" y1="316" x2="470" y2="324" stroke="#777" stroke-width="1" />
<line x1="474" y1="316" x2="474" y2="324" stroke="#777" stroke-width="1" />
<line x1="478" y1="316" x2="478" y2="324" stroke="#777" stroke-width="1" />
<path d="M458.8,312.6 L464,309.8" fill="none" stroke="#222" stroke-width="2.8" stroke-linecap="round"/>
<circle cx="488.7" cy="312.5" r="2.4" fill="none" stroke="#555" stroke-width="1.2"/>
<path d="M511.5,320.5 L535.5,333 L530,340 L506,327.5 Z" fill="#f2f2f2" stroke="#303030" stroke-width="1.2" />
<path d="M506,327.5 L506,332 L526,343.8 L530,340" fill="none" stroke="#303030" stroke-width="1.2" />
<line x1="513" y1="323.3" x2="515.4" y2="324.6" stroke="#3a3a3a" stroke-width="1.6" />
<line x1="517" y1="325.4" x2="519.4" y2="326.7" stroke="#3a3a3a" stroke-width="1.6" />
<line x1="521" y1="327.5" x2="523.4" y2="328.8" stroke="#3a3a3a" stroke-width="1.6" />
<line x1="525" y1="329.6" x2="527.4" y2="330.9" stroke="#3a3a3a" stroke-width="1.6" />
<line x1="529" y1="331.7" x2="531.4" y2="333" stroke="#3a3a3a" stroke-width="1.6" />
<line x1="512.7" y1="327.35" x2="515.1" y2="328.65" stroke="#3a3a3a" stroke-width="1.6" />
<line x1="516.7" y1="329.45" x2="519.1" y2="330.75" stroke="#3a3a3a" stroke-width="1.6" />
<line x1="520.7" y1="331.55" x2="523.1" y2="332.85" stroke="#3a3a3a" stroke-width="1.6" />
<line x1="524.7" y1="333.65" x2="527.1" y2="334.95" stroke="#3a3a3a" stroke-width="1.6" />
<ellipse cx="505.6" cy="318" rx="4.3" ry="2.8" fill="#ddd" stroke="#444" stroke-width="1.2"/>
<line x1="501.3" y1="318" x2="501.3" y2="326" stroke="#444" stroke-width="1.35" />
<line x1="509.9" y1="318" x2="509.9" y2="326" stroke="#444" stroke-width="1.35" />
<path d="M501.3,326 Q505.6,329.5 509.9,326" fill="none" stroke="#444" stroke-width="1.1" />
<line x1="504.4" y1="320.5" x2="504.4" y2="328" stroke="#888" stroke-width="0.8" />
<line x1="507.1" y1="320.5" x2="507.1" y2="328" stroke="#888" stroke-width="0.8" />
<ellipse cx="538.5" cy="338.5" rx="4.3" ry="2.8" fill="#ddd" stroke="#444" stroke-width="1.2"/>
<line x1="534.2" y1="338.5" x2="534.2" y2="346.5" stroke="#444" stroke-width="1.35" />
<line x1="542.8" y1="338.5" x2="542.8" y2="346.5" stroke="#444" stroke-width="1.35" />
<path d="M534.2,346.5 Q538.5,350 542.8,346.5" fill="none" stroke="#444" stroke-width="1.1" />
<line x1="537.3" y1="341" x2="537.3" y2="348.5" stroke="#888" stroke-width="0.8" />
<line x1="540" y1="341" x2="540" y2="348.5" stroke="#888" stroke-width="0.8" />
<path d="M488.5,338.2 L502,344.8" fill="none" stroke="#111" stroke-width="4" stroke-linecap="round"/>
<circle cx="508.5" cy="348.5" r="2" fill="none" stroke="#555" stroke-width="1.1"/>
<path d="M531,322.5 L547.5,331.2" fill="none" stroke="#333" stroke-width="2.4" />
<path d="M533,327.2 L541,331.6" fill="none" stroke="#444" stroke-width="1.6" />
<rect x="455.5" y="366.2" width="3.4" height="10.8" rx="1.5" fill="#bbb" stroke="#2a2a2a" stroke-width="1.2" />
<rect x="460.9" y="369.28" width="3.4" height="10.8" rx="1.5" fill="#bbb" stroke="#2a2a2a" stroke-width="1.2" />
<rect x="466.3" y="372.36" width="3.4" height="10.8" rx="1.5" fill="#bbb" stroke="#2a2a2a" stroke-width="1.2" />
<rect x="471.7" y="375.44" width="3.4" height="10.8" rx="1.5" fill="#bbb" stroke="#2a2a2a" stroke-width="1.2" />
<rect x="477.1" y="378.52" width="3.4" height="10.8" rx="1.5" fill="#bbb" stroke="#2a2a2a" stroke-width="1.2" />
<rect x="482.5" y="381.6" width="3.4" height="10.8" rx="1.5" fill="#bbb" stroke="#2a2a2a" stroke-width="1.2" />
<rect x="487.9" y="384.68" width="3.4" height="10.8" rx="1.5" fill="#bbb" stroke="#2a2a2a" stroke-width="1.2" />
<rect x="493.3" y="387.76" width="3.4" height="10.8" rx="1.5" fill="#bbb" stroke="#2a2a2a" stroke-width="1.2" />
<rect x="498.7" y="390.84" width="3.4" height="10.8" rx="1.5" fill="#bbb" stroke="#2a2a2a" stroke-width="1.2" />
<circle cx="451.3" cy="364.1" r="1.8" fill="none" stroke="#555" stroke-width="1"/>
<circle cx="507.7" cy="396.5" r="1.8" fill="none" stroke="#555" stroke-width="1"/>
<rect x="538" y="389.5" width="3.2" height="10.8" rx="1.5" fill="#bbb" stroke="#2a2a2a" stroke-width="1.2" />
<rect x="542.95" y="386.85" width="3.2" height="10.8" rx="1.5" fill="#bbb" stroke="#2a2a2a" stroke-width="1.2" />
<rect x="547.9" y="384.2" width="3.2" height="10.8" rx="1.5" fill="#bbb" stroke="#2a2a2a" stroke-width="1.2" />
<rect x="552.85" y="381.55" width="3.2" height="10.8" rx="1.5" fill="#bbb" stroke="#2a2a2a" stroke-width="1.2" />
<rect x="557.8" y="378.9" width="3.2" height="10.8" rx="1.5" fill="#bbb" stroke="#2a2a2a" stroke-width="1.2" />
<rect x="562.75" y="376.25" width="3.2" height="10.8" rx="1.5" fill="#bbb" stroke="#2a2a2a" stroke-width="1.2" />
<rect x="567.7" y="373.6" width="3.2" height="10.8" rx="1.5" fill="#bbb" stroke="#2a2a2a" stroke-width="1.2" />
<rect x="572.65" y="370.95" width="3.2" height="10.8" rx="1.5" fill="#bbb" stroke="#2a2a2a" stroke-width="1.2" />
<rect x="577.6" y="368.3" width="3.2" height="10.8" rx="1.5" fill="#bbb" stroke="#2a2a2a" stroke-width="1.2" />
<rect x="582.55" y="365.65" width="3.2" height="10.8" rx="1.5" fill="#bbb" stroke="#2a2a2a" stroke-width="1.2" />
<circle cx="532.8" cy="397" r="1.8" fill="none" stroke="#555" stroke-width="1"/>
<circle cx="589.1" cy="364" r="1.8" fill="none" stroke="#555" stroke-width="1"/>
</g>
</svg>
</body></html>
